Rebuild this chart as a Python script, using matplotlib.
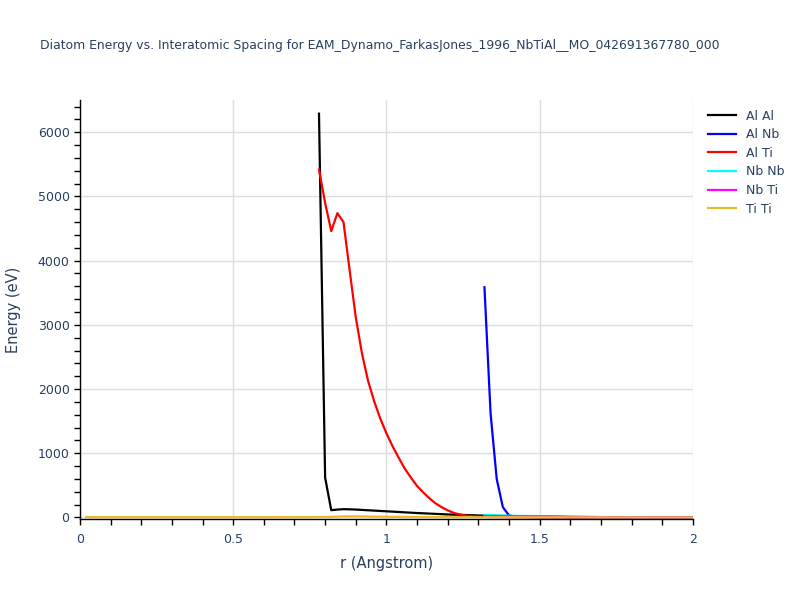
import matplotlib.pyplot as plt
from matplotlib.ticker import MultipleLocator

TITLE = 'Diatom Energy vs. Interatomic Spacing for EAM_Dynamo_FarkasJones_1996_NbTiAl__MO_042691367780_000'
TEXT_COLOR = '#2a3f5f'
GRID_COLOR = '#dedede'

# Al Al
r_alal = [0.78, 0.80, 0.82, 0.84, 0.86, 0.88, 0.90, 1.00, 1.10, 1.20, 1.30, 1.40, 1.50, 1.60, 1.80, 2.00]
e_alal = [6290, 620, 112, 122, 128, 126, 122, 95, 68, 46, 30, 20, 12, 6, 3, 1]

# Al Nb
r_alnb = [1.32, 1.34, 1.36, 1.38, 1.40, 1.42, 1.46, 1.50, 1.60, 2.00]
e_alnb = [3586, 1620, 600, 160, 32, 12, 6, 3, 1, 0]

# Al Ti
r_alti = [0.78, 0.80, 0.82, 0.84, 0.86, 0.88, 0.90, 0.92, 0.94, 0.96, 0.98, 1.00,
          1.02, 1.04, 1.06, 1.08, 1.10, 1.12, 1.14, 1.16, 1.18, 1.20, 1.22, 1.24,
          1.26, 1.28, 1.30, 1.34, 1.40, 1.60, 2.00]
e_alti = [5420, 4900, 4460, 4740, 4600, 3850, 3120, 2560, 2130, 1810, 1540, 1310,
          1110, 930, 760, 620, 490, 390, 300, 220, 160, 110, 70, 45,
          28, 18, 12, 6, 3, 1, 0]

# Nb Nb
r_nbnb = [1.32, 1.36, 1.40, 1.45, 1.50, 1.55, 1.60, 1.70, 2.00]
e_nbnb = [40, 32, 25, 22, 20, 14, 8, 3, 0]

# Nb Ti
r_nbti = [1.32, 1.40, 1.45, 1.50, 1.55, 1.60, 1.70, 1.80, 2.00]
e_nbti = [20, 18, 16, 15, 12, 8, 5, 3, 1]

# Ti Ti
r_titi = [0.02, 0.30, 0.60, 0.80, 0.86, 0.90, 0.96, 1.10, 1.30, 1.60, 2.00]
e_titi = [4, 4, 4, 6, 15, 18, 12, 6, 3, 1, 0]

series = [
    ('Al Al', r_alal, e_alal, 'black'),
    ('Al Nb', r_alnb, e_alnb, 'blue'),
    ('Al Ti', r_alti, e_alti, 'red'),
    ('Nb Nb', r_nbnb, e_nbnb, 'cyan'),
    ('Nb Ti', r_nbti, e_nbti, 'magenta'),
    ('Ti Ti', r_titi, e_titi, '#ebbb2a'),
]

fig = plt.figure(figsize=(8, 6), dpi=100)
ax = fig.add_axes([0.1, 0.135, 0.766, 0.698])

for name, r, e, c in series:
    ax.plot(r, e, color=c, lw=1.6, label=name)

ax.set_xlim(0, 2)
ax.set_ylim(-25, 6500)
ax.xaxis.set_minor_locator(MultipleLocator(0.1))
ax.yaxis.set_major_locator(MultipleLocator(1000))
ax.yaxis.set_minor_locator(MultipleLocator(200))
ax.set_xticks([0, 0.5, 1, 1.5, 2])
ax.set_xticklabels(['0', '0.5', '1', '1.5', '2'])

ax.grid(True, which='major', color=GRID_COLOR, lw=1)
ax.set_axisbelow(True)
for s in ['top', 'right']:
    ax.spines[s].set_visible(False)
for s in ['left', 'bottom']:
    ax.spines[s].set_color('black')
    ax.spines[s].set_linewidth(1)
ax.tick_params(which='both', direction='out', length=4, width=1, color='black',
               labelcolor=TEXT_COLOR, labelsize=9)
ax.tick_params(axis='x', pad=6)

ax.set_xlabel('r (Angstrom)', color=TEXT_COLOR, fontsize=10.5, labelpad=7)
ax.set_ylabel('Energy (eV)', color=TEXT_COLOR, fontsize=10.5, labelpad=12)

fig.text(0.05, 0.925, TITLE, color=TEXT_COLOR, fontsize=8.9, va='center')

leg = ax.legend(loc='upper left', bbox_to_anchor=(1.01, 1.0), frameon=False,
                fontsize=9, handlelength=2.2, labelspacing=0.45, borderaxespad=0.35)
for t in leg.get_texts():
    t.set_color(TEXT_COLOR)

fig.savefig('out.png', dpi=100)
